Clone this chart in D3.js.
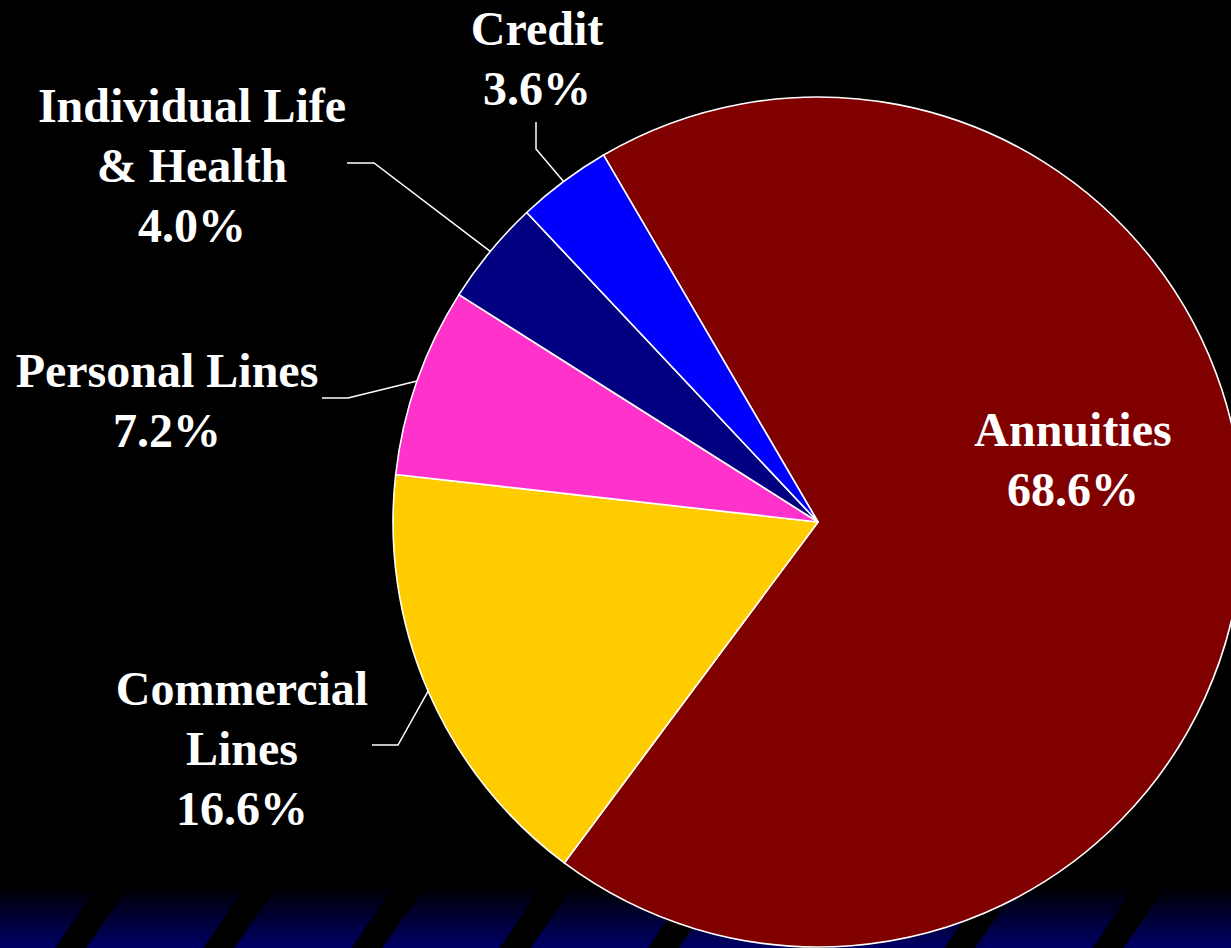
<!DOCTYPE html>
<html>
<head>
<meta charset="utf-8">
<script src="https://cdn.jsdelivr.net/npm/d3@7"></script>
<style>
  body { margin: 0; background: #000; overflow: hidden; }
  .lbl { font-family: "Liberation Serif", "Times New Roman", serif; font-weight: bold; font-size: 48px; fill: #fff; text-anchor: middle; }
</style>
</head>
<body>
<svg id="chart"></svg>
<script>
// DATA
var categories = ["Annuities", "Commercial Lines", "Personal Lines", "Individual Life & Health", "Credit"];
var shares = [68.6, 16.6, 7.2, 4.0, 3.6];
var colors = ["#800000", "#ffcc00", "#ff33cc", "#000080", "#0000ff"];
var labelLines = [["Annuities"], ["Commercial", "Lines"], ["Personal Lines"], ["Individual Life", "& Health"], ["Credit"]];

// SIZING
var width = 1231, height = 948;
var cx = 818, cy = 522, radius = 425;
var fmt = d3.format(".1f");

var svg = d3.select("#chart")
	.attr("width", width)
	.attr("height", height);

// BACKGROUND BAND WITH STRIPES
var defs = svg.append("defs");
var grad = defs.append("linearGradient")
	.attr("id", "band")
	.attr("x1", 0).attr("y1", 0).attr("x2", 0).attr("y2", 1);
grad.append("stop").attr("offset", "0%").attr("stop-color", "#000000");
grad.append("stop").attr("offset", "100%").attr("stop-color", "#000066");

svg.append("rect")
	.attr("width", width).attr("height", height)
	.style("fill", "#000");

var bandTop = 887;
svg.append("rect")
	.attr("x", 0).attr("y", bandTop)
	.attr("width", width).attr("height", height - bandTop)
	.style("fill", "url(#band)");

var stripes = svg.append("g");
for (var sx = 55; sx < width + 60; sx += 148.2) {
	stripes.append("path")
		.attr("d", "M" + sx + "," + height + "L" + (sx + 42) + "," + bandTop +
			"L" + (sx + 73) + "," + bandTop + "L" + (sx + 31) + "," + height + "Z")
		.style("fill", "#000");
}

// PIE
var pie = d3.pie()
	.sort(null)
	.startAngle(-30.3 * Math.PI / 180)
	.endAngle((360 - 30.3) * Math.PI / 180)
	.value(function(d) { return d; });

var arcs = pie(shares);

var arc = d3.arc()
	.innerRadius(0)
	.outerRadius(radius);

var g = svg.append("g")
	.attr("transform", "translate(" + cx + "," + cy + ")");

g.selectAll("path")
	.data(arcs)
	.enter()
	.append("path")
	.attr("d", arc)
	.style("fill", function(d, i) { return colors[i]; })
	.style("stroke", "#fff")
	.style("stroke-width", 1.6)
	.style("stroke-linejoin", "round");

// LABEL LAYOUT (text anchor + leader elbow/end)
var layout = [
	{x: 1073, y: 446, elbow: null, end: null},
	{x: 242, y: 705, elbow: [398, 745], end: [372, 745]},
	{x: 167, y: 387, elbow: [348, 398], end: [322, 398]},
	{x: 192, y: 122, elbow: [374, 163], end: [347, 163]},
	{x: 537, y: 45, elbow: [536, 149], end: [536, 122]}
];

var lineH = 60;

arcs.forEach(function(a, i) {
	var L = layout[i];
	var t = svg.append("text")
		.attr("class", "lbl")
		.attr("x", L.x)
		.attr("y", L.y);
	var lines = labelLines[i].concat([fmt(shares[i]) + "%"]);
	lines.forEach(function(s, k) {
		t.append("tspan")
			.attr("x", L.x)
			.attr("dy", k === 0 ? 0 : lineH)
			.text(s);
	});

	if (L.elbow) {
		var mid = (a.startAngle + a.endAngle) / 2;
		var px = cx + radius * Math.sin(mid);
		var py = cy - radius * Math.cos(mid);
		svg.append("polyline")
			.attr("points", [[px, py], L.elbow, L.end].map(function(p) { return p.join(","); }).join(" "))
			.style("fill", "none")
			.style("stroke", "#fff")
			.style("stroke-width", 1.5);
	}
});
</script>
</body>
</html>
